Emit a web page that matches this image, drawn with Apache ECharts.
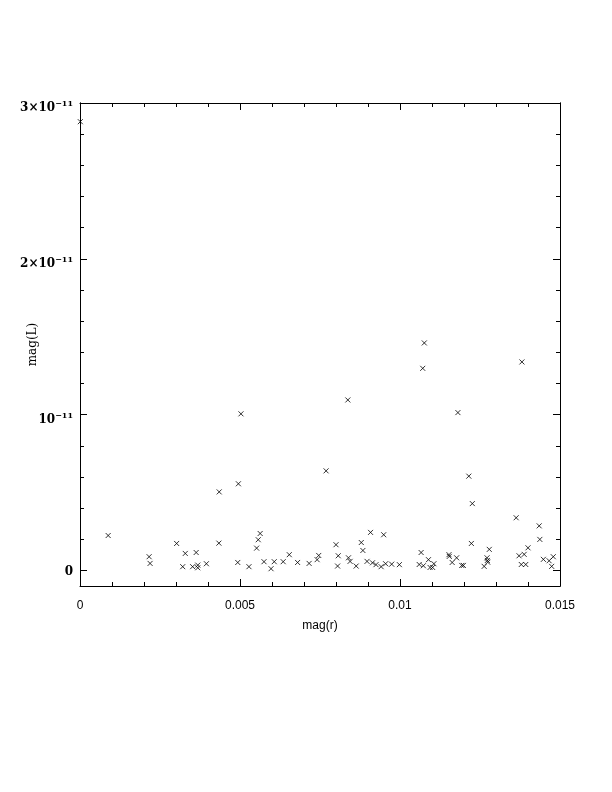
<!DOCTYPE html>
<html><head><meta charset="utf-8">
<script src="https://cdn.jsdelivr.net/npm/echarts@6/dist/echarts.min.js"></script>
<style>html,body{margin:0;padding:0;background:#fff}#c{width:612px;height:792px}</style>
</head><body><div id="c"></div>
<script>
// data: mag(r) and mag(L)
const magR = [0.00001,0.00088,0.00216,0.00219,0.00302,0.00329,0.00321,0.00363,0.00352,0.00368,0.00368,0.00395,0.00434,0.00435,0.00495,0.00493,0.00503,0.00528,0.00563,0.00557,0.00552,0.00575,0.00597,0.00607,0.00635,0.00654,0.0068,0.00716,0.00741,0.00746,0.00769,0.008,0.00807,0.00805,0.00837,0.00839,0.00844,0.00863,0.00879,0.00884,0.00897,0.00908,0.00914,0.00925,0.00941,0.00949,0.00955,0.00974,0.00998,0.01066,0.0106,0.01073,0.01089,0.01094,0.01102,0.01106,0.01076,0.01071,0.01153,0.01154,0.01163,0.01177,0.01193,0.01198,0.01181,0.01215,0.01226,0.01223,0.01279,0.01263,0.01272,0.01273,0.01274,0.01363,0.01372,0.01388,0.01379,0.01393,0.014,0.01381,0.01435,0.01437,0.01448,0.01466,0.01479,0.01474];
const magL = [2.88e-11,0.224e-11,0.088e-11,0.045e-11,0.173e-11,0.109e-11,0.024e-11,0.115e-11,0.024e-11,0.034e-11,0.017e-11,0.043e-11,0.175e-11,0.504e-11,0.556e-11,0.051e-11,1.005e-11,0.024e-11,0.237e-11,0.197e-11,0.143e-11,0.056e-11,0.011e-11,0.056e-11,0.056e-11,0.101e-11,0.051e-11,0.045e-11,0.069e-11,0.096e-11,0.639e-11,0.165e-11,0.094e-11,0.028e-11,1.094e-11,0.081e-11,0.058e-11,0.028e-11,0.179e-11,0.128e-11,0.058e-11,0.244e-11,0.049e-11,0.037e-11,0.024e-11,0.229e-11,0.043e-11,0.040e-11,0.037e-11,0.115e-11,0.038e-11,0.030e-11,0.069e-11,0.019e-11,0.019e-11,0.043e-11,1.46e-11,1.297e-11,0.101e-11,0.09e-11,0.051e-11,0.081e-11,0.032e-11,0.032e-11,1.013e-11,0.605e-11,0.429e-11,0.173e-11,0.135e-11,0.026e-11,0.081e-11,0.064e-11,0.053e-11,0.338e-11,0.094e-11,0.103e-11,0.038e-11,0.038e-11,0.145e-11,1.338e-11,0.286e-11,0.199e-11,0.071e-11,0.062e-11,0.088e-11,0.026e-11];
const xTicks = [0, 0.005, 0.01, 0.015];
const xTickLabels = ['0', '0.005', '0.01', '0.015'];
const yTicks = [0, 1e-11, 2e-11, 3e-11];
const yTickLabels = ['{z|0}', '{b|10}{s|\u221211}', '{b|2\u00d710}{s|\u221211}', '{b|3\u00d710}{s|\u221211}'];
const yMinorTicks = [0.2e-11,0.4e-11,0.6e-11,0.8e-11,1.2e-11,1.4e-11,1.6e-11,1.8e-11,2.2e-11,2.4e-11,2.6e-11,2.8e-11];
const yMin = -0.1e-11, yMax = 3e-11;
const xMin = 0, xMax = 0.015;

const pts = magR.map((x, i) => [x, magL[i]]);
const chart = echarts.init(document.getElementById('c'), null, {renderer: 'canvas'});
const axLine = {show: true, onZero: false, lineStyle: {color: '#000', width: 1}};
const yLabelFmt = v => {
  for (let i = 0; i < yTicks.length; i++) if (Math.abs(v - yTicks[i]) < 1e-14) return yTickLabels[i];
  return '';
};
const xLabelFmt = v => {
  for (let i = 0; i < xTicks.length; i++) if (Math.abs(v - xTicks[i]) < 1e-9) return xTickLabels[i];
  return '';
};
function yAx(pos, ticks, len, labels) {
  return {
    type: 'value', position: pos, min: yMin, max: yMax,
    axisLine: axLine, splitLine: {show: false},
    axisTick: {show: true, inside: true, length: len, customValues: ticks, lineStyle: {color: '#000'}},
    axisLabel: labels ? {
      show: true, customValues: yTicks, formatter: yLabelFmt, margin: 7, color: '#000', padding: [10, 0, 0, 0],
      rich: {b: {fontFamily: 'DejaVu Serif', fontWeight: 'bold', fontSize: 12, color: '#000'},
             z: {fontFamily: 'DejaVu Serif', fontWeight: 'bold', fontSize: 12, color: '#000', padding: [0, 0, 8, 0]},
             s: {fontFamily: 'DejaVu Serif', fontWeight: 'bold', fontSize: 8, color: '#000', padding: [0, 0, 8, 0]}}
    } : {show: false},
    name: labels ? 'mag(L)' : '', nameLocation: 'middle', nameGap: 41, nameRotate: 90, nameMoveOverlap: false,
    nameTextStyle: {fontFamily: 'DejaVu Serif', fontSize: 12, color: '#000'}
  };
}
chart.setOption({
  animation: false,
  backgroundColor: '#fff',
  grid: {left: 80, right: 52, top: 103, bottom: 206, containLabel: false},
  xAxis: [
    {type: 'value', position: 'bottom', min: xMin, max: xMax, interval: 0.005,
     axisLine: axLine, splitLine: {show: false},
     axisTick: {show: true, inside: true, length: 7, lineStyle: {color: '#000'}},
     minorTick: {show: true, splitNumber: 5, length: 4, lineStyle: {color: '#000'}},
     axisLabel: {show: true, formatter: xLabelFmt, margin: 14, color: '#000', fontFamily: 'Liberation Sans', fontSize: 12},
     name: 'mag(r)', nameLocation: 'middle', nameGap: 34, nameMoveOverlap: false,
     nameTextStyle: {fontFamily: 'Liberation Sans', fontSize: 12, color: '#000'}},
    {type: 'value', position: 'top', min: xMin, max: xMax, interval: 0.005,
     axisLine: axLine, splitLine: {show: false},
     axisTick: {show: true, inside: true, length: 7, lineStyle: {color: '#000'}},
     minorTick: {show: true, splitNumber: 5, length: 4, lineStyle: {color: '#000'}},
     axisLabel: {show: false}}
  ],
  yAxis: [
    yAx('left', yTicks, 7, true),
    yAx('right', yTicks, 7, false),
    yAx('left', yMinorTicks, 4, false),
    yAx('right', yMinorTicks, 4, false)
  ],
  series: [{
    type: 'scatter', xAxisIndex: 0, yAxisIndex: 0, data: pts, clip: true,
    symbol: 'path://M0,0L10,10M10,0L0,10', symbolSize: 5,
    itemStyle: {color: 'rgba(0,0,0,0)', borderColor: '#000', borderWidth: 1}
  }]
});
</script></body></html>
